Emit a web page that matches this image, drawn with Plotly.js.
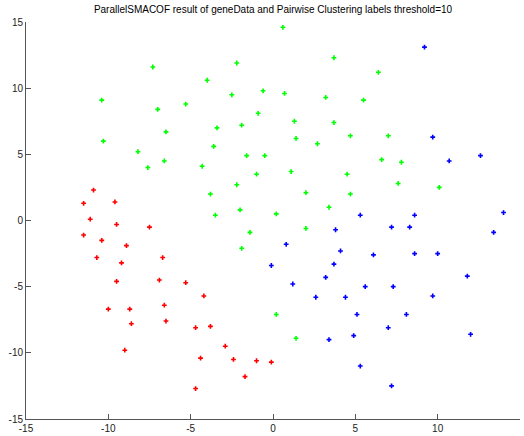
<!DOCTYPE html>
<html>
<head>
<meta charset="utf-8">
<script src="https://cdn.plot.ly/plotly-3.0.1.min.js"></script>
<style>html,body{margin:0;padding:0;background:#fff;}#chart{width:524px;height:436px;}</style>
</head>
<body>
<div id="chart"></div>
<script>
// Cluster 1 (red)
var redX = [-10.9, -11.5, -9.6, -11.1, -11.5, -9.5, -7.5, -10.4, -8.9, -10.7, -9.2, -6.7, -9.5, -6.9, -5.3, -4.2, -10.0, -8.7, -6.6, -8.6, -6.5, -4.7, -3.8, -9.0, -2.9, -4.4, -2.4, -1.0, -0.1, -1.7, -4.7];
var redY = [2.3, 1.3, 1.4, 0.1, -1.1, -0.3, -0.5, -1.5, -1.9, -2.8, -3.2, -2.8, -4.6, -4.5, -4.7, -5.7, -6.7, -6.7, -6.4, -7.8, -7.6, -8.1, -8.0, -9.8, -9.5, -10.4, -10.5, -10.6, -10.7, -11.8, -12.7];
// Cluster 2 (green)
var greenX = [-10.4, -7.3, -10.3, -8.2, -7.6, -7.0, -6.5, -6.6, -5.3, -4.0, -3.4, -3.6, -4.3, -3.8, -3.5, -2.2, -2.5, -1.9, -1.6, -2.2, -2.0, -0.6, -0.9, -0.5, -1.0, 0.6, 3.7, 6.4, 0.7, 3.2, 5.5, 1.3, 3.7, 1.4, 4.7, 7.0, 2.7, 6.6, 7.8, 1.1, 4.5, 7.6, 10.1, 2.0, 4.7, 3.4, 0.2, 2.0, -1.4, -1.9, 0.2, 1.4];
var greenY = [9.1, 11.6, 6.0, 5.2, 4.0, 8.4, 6.7, 4.5, 8.8, 10.6, 7.0, 5.6, 4.1, 2.0, 0.4, 11.9, 9.5, 7.2, 4.9, 2.7, 0.8, 9.8, 8.1, 4.9, 3.5, 14.6, 12.3, 11.2, 9.6, 9.3, 9.1, 7.5, 7.4, 6.2, 6.4, 6.4, 5.8, 4.6, 4.4, 3.7, 3.5, 2.8, 2.5, 2.1, 2.0, 1.0, 0.5, -0.6, -0.9, -2.1, -7.1, -8.9];
// Cluster 3 (blue)
var blueX = [9.2, 9.7, 10.7, 12.6, 5.3, 8.6, 14.0, 7.2, 8.3, 3.8, 13.4, 0.8, 4.1, 6.1, 8.6, 10.0, -0.1, 3.7, 11.8, 3.2, 1.2, 5.6, 7.3, 9.7, 2.6, 4.4, 5.1, 8.1, 7.0, 4.9, 3.4, 12.0, 5.3, 7.2];
var blueY = [13.1, 6.3, 4.5, 4.9, 0.4, 0.4, 0.6, -0.5, -0.5, -0.7, -0.9, -1.8, -2.3, -2.6, -2.5, -2.5, -3.4, -3.3, -4.2, -4.3, -4.8, -5.0, -5.0, -5.7, -5.8, -5.8, -7.1, -7.1, -8.1, -8.7, -9.0, -8.6, -11.0, -12.5];

var titleText = 'ParallelSMACOF result of geneData and Pairwise Clustering labels threshold=10';
var tickVals = [-15, -10, -5, 0, 5, 10, 15];
var tickText = ['-15', '-10', '-5', '0', '5', '10', '15'];

function trace(x, y, color) {
  return {x: x, y: y, type: 'scatter', mode: 'markers',
    marker: {symbol: 'cross', size: 4, color: color, line: {width: 0}},
    hoverinfo: 'skip', showlegend: false};
}

var data = [trace(redX, redY, '#ff0000'), trace(greenX, greenY, '#00ff00'), trace(blueX, blueY, '#0000ff')];

var axisCommon = {
  range: [-15, 15], tickvals: tickVals, ticktext: tickText,
  showgrid: false, zeroline: false, showline: true, linecolor: '#555555', linewidth: 1,
  ticks: 'inside', ticklen: 5, tickcolor: '#555555', mirror: false,
  tickfont: {family: 'Liberation Sans, Arial, sans-serif', size: 10, color: '#222222'}
};

var layout = {
  width: 524, height: 436,
  margin: {l: 26, r: 4, t: 22, b: 17, pad: 0},
  paper_bgcolor: '#ffffff', plot_bgcolor: '#ffffff',
  title: {text: titleText, font: {family: 'Liberation Sans, Arial, sans-serif', size: 10, color: '#000000'},
    x: 0.5, xref: 'paper', y: 1 - 9/436, yref: 'container', yanchor: 'middle'},
  xaxis: Object.assign({}, axisCommon),
  yaxis: Object.assign({}, axisCommon),
  showlegend: false
};

Plotly.newPlot('chart', data, layout, {displayModeBar: false, staticPlot: true});
</script>
</body>
</html>
